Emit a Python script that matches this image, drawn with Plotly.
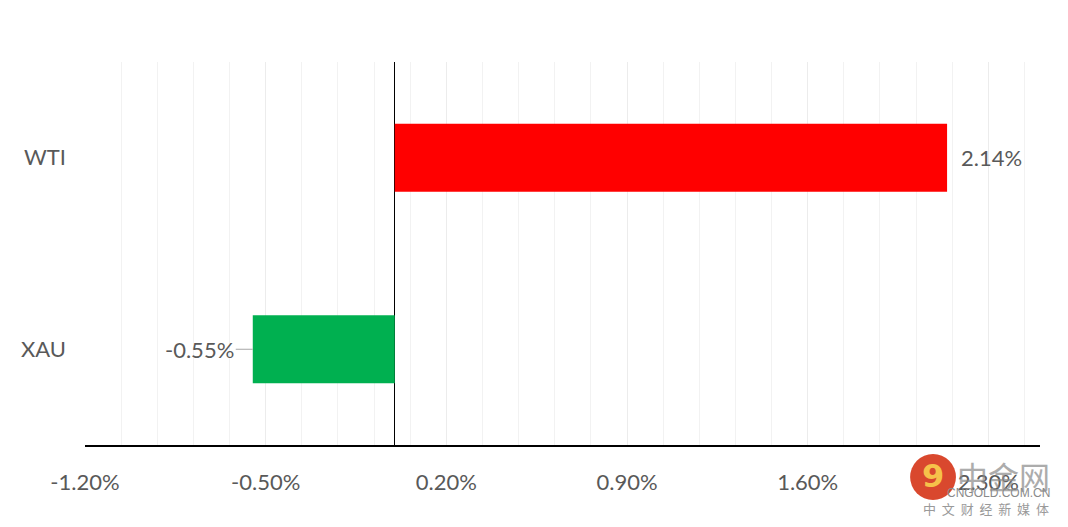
import plotly.graph_objects as go

# data
categories = ["WTI", "XAU"]
changes = [2.14, -0.55]
bar_colors = ["#FF0000", "#00B050"]
tick_vals = [-1.2, -0.5, 0.2, 0.9, 1.6, 2.3]
tick_text = ["-1.20%", "-0.50%", "0.20%", "0.90%", "1.60%", "2.30%"]
label_text = ["2.14%", "-0.55%"]

FONT = "Lato, 'Open Sans', sans-serif"
GREY = "#595959"

fig = go.Figure(go.Bar(
    x=changes,
    y=categories,
    orientation="h",
    marker=dict(color=bar_colors, line_width=0),
    width=0.355,
    hoverinfo="skip",
))

# value labels, the negative one has a small leader line
for cat, val, txt in zip(categories, changes, label_text):
    if val >= 0:
        fig.add_annotation(x=val, y=cat, text=txt, showarrow=False,
                           xanchor="left", xshift=12,
                           font=dict(family=FONT, size=22, color=GREY))
    else:
        fig.add_annotation(x=val, y=cat, text=txt, showarrow=True,
                           ax=-17, ay=0, arrowhead=0, arrowwidth=1,
                           arrowcolor="#a6a6a6", xanchor="right",
                           font=dict(family=FONT, size=22, color=GREY))

# watermark in the bottom-right corner (paper coords are relative to the plot area)
fig.add_shape(type="circle", xref="paper", yref="paper",
              x0=0.864, x1=0.912, y0=-0.1436, y1=-0.0235,
              fillcolor="#d6381c", line_width=0, opacity=0.92, layer="above")
fig.add_annotation(xref="paper", yref="paper", x=0.888, y=-0.080,
                   xanchor="center", yanchor="middle",
                   text="<b>9</b>", showarrow=False,
                   font=dict(family="DejaVu Sans", size=32, color="#f6c24a"))
fig.add_annotation(xref="paper", yref="paper", x=1.013, y=-0.080,
                   xanchor="right", yanchor="middle", text="中金网",
                   showarrow=False, opacity=0.7,
                   font=dict(family="Noto Sans CJK SC", size=31, color="#8a8a8a"))
fig.add_annotation(xref="paper", yref="paper", x=1.013, y=-0.126,
                   xanchor="right", yanchor="middle", text="CNGOLD.COM.CN",
                   showarrow=False,
                   font=dict(family="Liberation Sans", size=12, color="#8a8a8a"))
fig.add_annotation(xref="paper", yref="paper", x=1.011, y=-0.166,
                   xanchor="right", yanchor="middle",
                   text="&nbsp;&nbsp;".join("中文财经新媒体"), showarrow=False,
                   font=dict(family="Noto Sans CJK SC", size=13, color="#9a9a9a"))

fig.update_layout(
    width=1068, height=527,
    margin=dict(l=85, r=28, t=62, b=82),
    paper_bgcolor="white", plot_bgcolor="white",
    showlegend=False,
    font=dict(family=FONT, size=22, color=GREY),
    xaxis=dict(
        range=[-1.2, 2.5],
        tickvals=tick_vals, ticktext=tick_text,
        showgrid=True, gridcolor="#ececec", gridwidth=1,
        minor=dict(dtick=0.14, tick0=-1.2, showgrid=True,
                   gridcolor="#f2f2f2", gridwidth=1),
        zeroline=True, zerolinecolor="#000000", zerolinewidth=1,
        showline=True, linecolor="#000000", linewidth=1.5,
        ticks="", ticklabelstandoff=17,
        tickfont=dict(family=FONT, size=22, color=GREY),
        fixedrange=True,
    ),
    yaxis=dict(
        categoryorder="array", categoryarray=categories[::-1],
        range=[-0.5, 1.5],
        showgrid=False, zeroline=False, showline=False, ticks="",
        ticklabelstandoff=18,
        tickfont=dict(family=FONT, size=22, color=GREY),
        fixedrange=True,
    ),
)

fig.write_html("out.html", config=dict(displayModeBar=False),
               post_script="document.body.style.margin='0';")
